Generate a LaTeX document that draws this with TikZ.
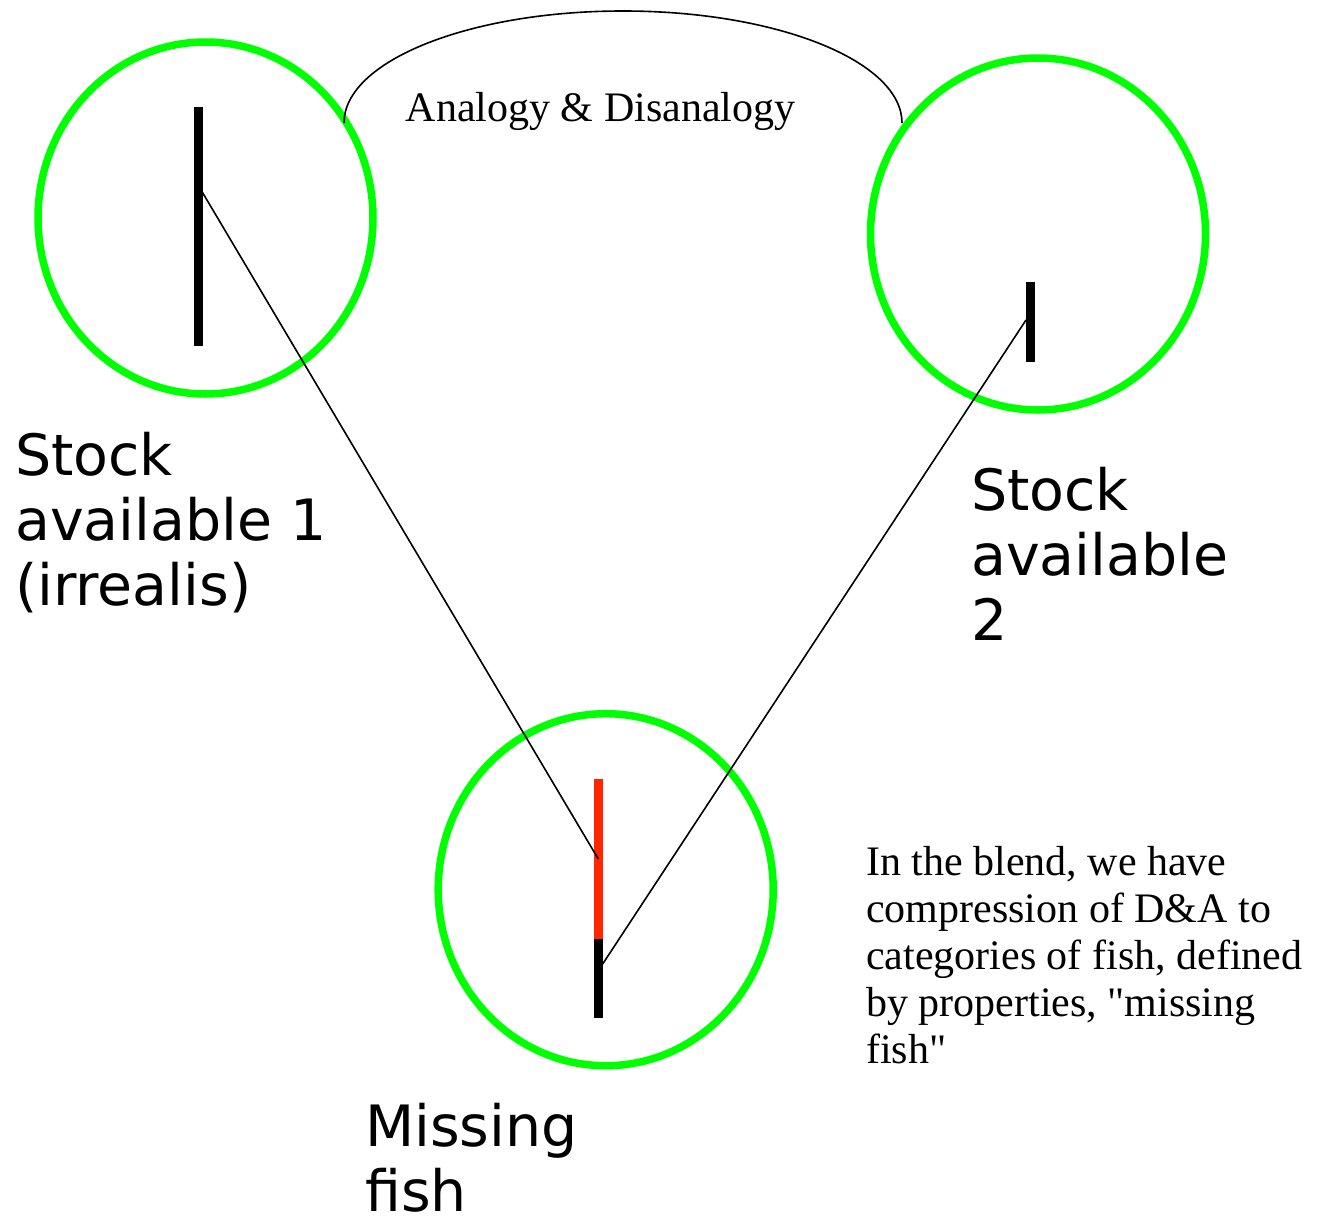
\documentclass[tikz,border=0pt]{standalone}
\usepackage{fontspec}
\setmainfont{Liberation Serif}
\newfontfamily\labelfont{DejaVu Sans}
\usetikzlibrary{shapes.geometric}
\definecolor{spacegreen}{RGB}{0,255,0}
\definecolor{blendred}{RGB}{255,38,0}
\begin{document}
\begin{tikzpicture}[x=1pt,y=-1pt,
  mentalspace/.style={draw=spacegreen, line width=7.5pt, ellipse, inner sep=0pt,
    minimum width=335pt, minimum height=352pt},
  bar/.style={line width=8.6pt},
  link/.style={line width=1.6pt},
  spacelabel/.style={font=\labelfont\fontsize{57}{65}\selectfont, align=left,
    inner sep=0pt, anchor=base west},
  note/.style={font=\fontsize{42}{47}\selectfont, align=left, inner sep=0pt,
    anchor=base west}]
\useasboundingbox (0,0) rectangle (1325,1218);

% the three mental spaces
\node[mentalspace] (input1) at (205.5,218) {};
\node[mentalspace] (input2) at (1038,234) {};
\node[mentalspace] (blend) at (605.7,889.7) {};

% bar in input space 1
\coordinate (b1top) at (198.4,106.5);
\coordinate (b1bot) at (198.4,346);
\draw[bar] (b1top) -- (b1bot);
\coordinate (p1) at (202.2,192);

% bar in input space 2
\coordinate (b2top) at (1030.3,282.3);
\coordinate (b2bot) at (1030.3,362.3);
\draw[bar] (b2top) -- (b2bot);
\coordinate (p2) at (1026,320);

% bar in the blend: red part above, black part below
\coordinate (b3top) at (598.3,778.7);
\coordinate (b3mid) at (598.3,938.7);
\coordinate (b3bot) at (598.3,1018.3);
\draw[bar, blendred] (b3top) -- (b3mid);
\draw[bar] (b3mid) -- (b3bot);
\coordinate (q1) at (598.3,859);
\coordinate (q2) at (602,965);

% projections into the blend
\draw[link] (p1) -- (q1);
\draw[link] (p2) -- (q2);

% cross-space mapping arc
\coordinate (arcL) at (344,123);
\coordinate (arcR) at (902,123);
\draw[link] (arcL) arc[start angle=180, end angle=360, x radius=279, y radius=112];
\node[font=\fontsize{42}{47}\selectfont, inner sep=0pt, anchor=base] (mapping)
  at (600.5,121) {Analogy \& Disanalogy};

% labels (anchored at the baseline of the last line)
\node[spacelabel] (lab1) at (15,605) {Stock\\available 1\\(irrealis)};
\node[spacelabel] (lab2) at (971,640) {Stock\\available\\2};
\node[spacelabel] (lab3) at (365,1211) {Missing\\fish};

\node[note] (comment) at (866,1063) {In the blend, we have\\compression of D\&A to\\categories of fish, defined\\by properties, \textquotedbl missing\\fish\textquotedbl};
\end{tikzpicture}
\end{document}
